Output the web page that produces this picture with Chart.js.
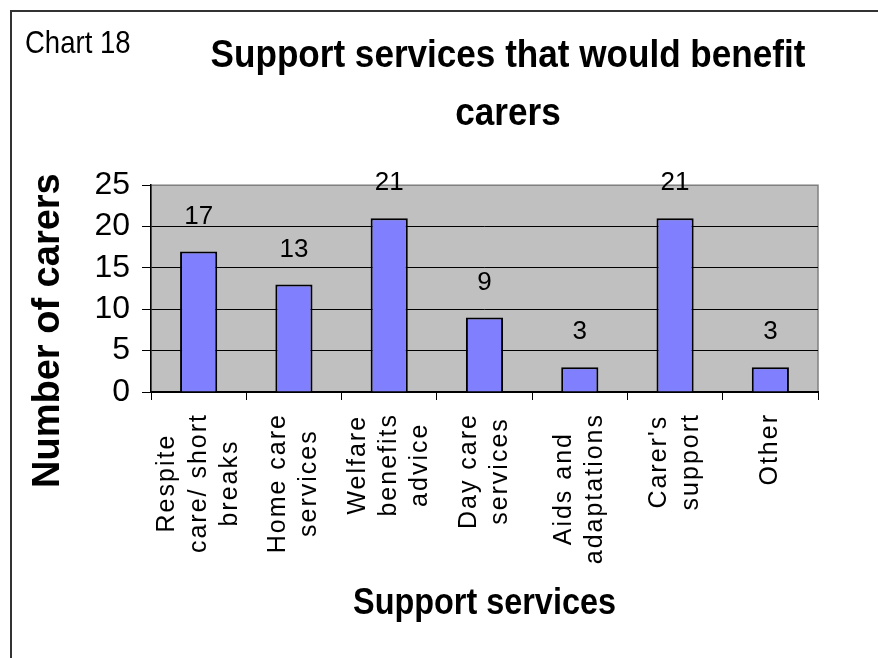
<!DOCTYPE html>
<html lang="en">
<head>
    <meta charset="UTF-8">
    <title>Support services that would benefit carers</title>
    <script src="https://cdn.jsdelivr.net/npm/chart.js"></script>
    <style>
        body { margin: 0; background: #fff; }
        #wrap { position: relative; width: 878px; height: 658px; overflow: hidden; }
        #frame { position: absolute; left: 10px; top: 10px; width: 2000px; height: 2000px;
                 border-left: 2px solid #333; border-top: 2px solid #333; }
        canvas { position: absolute; left: 0; top: 0; }
    </style>
</head>
<body>
    <div id="wrap">
        <div id="frame"></div>
        <canvas id="servicesChart" width="878" height="658"></canvas>
    </div>

    <script>
        const categories = [
            ['Respite', 'care/ short', 'breaks'],
            ['Home care', 'services'],
            ['Welfare', 'benefits', 'advice'],
            ['Day care', 'services'],
            ['Aids and', 'adaptations'],
            ["Carer's", 'support'],
            ['Other']
        ];
        const carers = [17, 13, 21, 9, 3, 21, 3];
        const yMax = 25;
        const yStep = 5;

        const SANS = "'Liberation Sans', Arial, sans-serif";
        // the chart box runs past the right edge, so its title centre sits right of the canvas middle
        const TITLE_CENTRE = 508;

        // wrap a draw method: optional letter spacing, horizontal squeeze around cx, shifts
        function restyle(obj, method, { spacing, squeeze, cx, target, dy } = {}) {
            const orig = obj[method].bind(obj);
            obj[method] = function (area) {
                const c = obj.ctx;
                c.save();
                if (spacing) c.letterSpacing = spacing;
                if (dy) c.translate(0, dy);
                if (squeeze) {
                    const from = cx();
                    c.translate(target ? target() : from, 0);
                    c.scale(squeeze, 1);
                    c.translate(-from, 0);
                }
                orig(area);
                c.restore();
            };
        }

        const decorations = {
            id: 'decorations',
            beforeDraw(chart) {
                const { ctx, chartArea: a, scales } = chart;
                // grey plot background with a soft outline
                ctx.save();
                ctx.fillStyle = '#c0c0c0';
                ctx.fillRect(a.left, a.top, a.right - a.left, a.bottom - a.top);
                ctx.strokeStyle = '#808080';
                ctx.lineWidth = 1.5;
                ctx.strokeRect(a.left, a.top, a.right - a.left, a.bottom - a.top);
                ctx.restore();

                if (!scales.x._restyled) {
                    const x = scales.x;
                    const t = chart.titleBlock;
                    restyle(x, 'drawLabels', { spacing: '2px' });
                    restyle(x, 'drawTitle', { squeeze: 0.9, cx: () => (x.left + x.right) / 2 });
                    restyle(scales.y, 'drawTitle', { dy: 42 });
                    restyle(t, 'draw', {
                        squeeze: 0.9,
                        cx: () => (t.left + t.right) / 2,
                        target: () => TITLE_CENTRE
                    });
                    x._restyled = true;
                }

                // centre each multi-line category block under its tick
                const items = scales.x.getLabelItems();
                if (!items._centred) {
                    ctx.save();
                    ctx.letterSpacing = '2px';
                    items.forEach(item => {
                        const o = item.options || item;
                        const lines = [].concat(item.label);
                        ctx.font = item.font.string;
                        const lh = item.font.lineHeight;
                        const longest = Math.max(...lines.map(l => ctx.measureText(l).width));
                        o.translation[0] -= (lines.length - 1) * lh / 2;
                        o.translation[1] += longest / 2;
                        o.textAlign = 'center';
                    });
                    ctx.restore();
                    items._centred = true;
                }
            },
            afterDatasetsDraw(chart) {
                const { ctx } = chart;
                const meta = chart.getDatasetMeta(0);
                ctx.save();
                ctx.font = '26px ' + SANS;
                ctx.fillStyle = '#000';
                ctx.textAlign = 'center';
                ctx.textBaseline = 'middle';
                meta.data.forEach((bar, i) => {
                    ctx.fillText(String(carers[i]), bar.x, bar.y - 35);
                });
                ctx.restore();
            },
            afterDraw(chart) {
                const { ctx } = chart;
                ctx.save();
                ctx.translate(25, 0);
                ctx.scale(0.86, 1);
                ctx.font = '32px ' + SANS;
                ctx.fillStyle = '#000';
                ctx.textBaseline = 'alphabetic';
                ctx.fillText('Chart 18', 0, 53);
                ctx.restore();
            }
        };

        const ctx = document.getElementById('servicesChart').getContext('2d');
        new Chart(ctx, {
            type: 'bar',
            data: {
                labels: categories,
                datasets: [{
                    label: 'Number of carers',
                    data: carers,
                    backgroundColor: '#8080ff',
                    borderColor: '#000',
                    borderWidth: 2,
                    borderSkipped: 'start',
                    barPercentage: 0.39,
                    categoryPercentage: 1
                }]
            },
            options: {
                responsive: false,
                animation: false,
                layout: { padding: { left: 10, right: 60, top: 0, bottom: 0 } },
                plugins: {
                    legend: { display: false },
                    tooltip: { enabled: false },
                    title: {
                        display: true,
                        text: ['Support services that would benefit', 'carers'],
                        color: '#000',
                        font: { family: SANS, size: 39, weight: 'bold', lineHeight: 1.49 },
                        padding: { top: 27, bottom: 42 }
                    }
                },
                scales: {
                    x: {
                        afterFit(scale) { scale.height = 266; },
                        grid: {
                            offset: true,
                            drawOnChartArea: false,
                            color: '#000',
                            tickLength: 8
                        },
                        border: { color: '#000', width: 2 },
                        ticks: {
                            color: '#000',
                            maxRotation: 90,
                            minRotation: 90,
                            autoSkip: false,
                            padding: 13,
                            font: { family: SANS, size: 25, lineHeight: 1.25 }
                        },
                        title: {
                            display: true,
                            text: 'Support services',
                            color: '#000',
                            font: { family: SANS, size: 36, weight: 'bold', lineHeight: 1.2 },
                            padding: { top: 0, bottom: 32 }
                        }
                    },
                    y: {
                        min: 0,
                        max: yMax,
                        afterFit(scale) { scale.width = 141; },
                        grid: {
                            color: c => c.tick && c.tick.value === yMax ? '#808080' : '#000',
                            tickColor: '#000',
                            lineWidth: 1,
                            tickLength: 9
                        },
                        border: { color: '#000', width: 1.5 },
                        ticks: {
                            stepSize: yStep,
                            autoSkip: false,
                            color: '#000',
                            padding: 12,
                            font: { family: SANS, size: 32 }
                        },
                        title: {
                            display: true,
                            text: 'Number of carers',
                            color: '#000',
                            font: { family: SANS, size: 38, weight: 'bold', lineHeight: 1.2 },
                            padding: { top: 16, bottom: 0 }
                        }
                    }
                }
            },
            plugins: [decorations]
        });
    </script>
</body>
</html>
